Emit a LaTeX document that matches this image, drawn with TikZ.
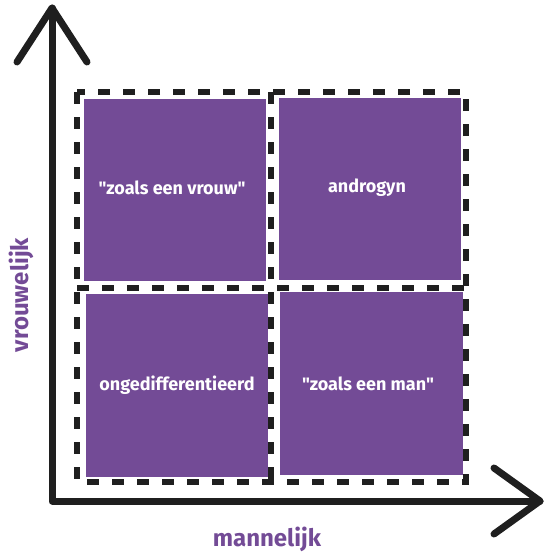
\documentclass[tikz,border=0pt]{standalone}
\usepackage{fontspec}
\newfontfamily\qfont{Fira Sans}
\begin{document}
\begin{tikzpicture}[x=1pt,y=-1pt,
  axis/.style={line width=7pt,line cap=round,line join=round,draw=black!88},
  dashbox/.style={line width=5.5pt,draw=black!88,dash pattern=on 12pt off 13pt},
  qtext/.style={text=white,font=\qfont\bfseries\fontsize{18}{20}\selectfont},
  alabel/.style={text=qpurple,font=\qfont\bfseries\fontsize{24}{26}\selectfont}]
\definecolor{qpurple}{RGB}{115,75,150}
\useasboundingbox (0,0) rectangle (544,555);
% purple squares
\fill[qpurple] (84,99) rectangle (266,281);
\fill[qpurple] (279,98) rectangle (461,280);
\fill[qpurple] (86,294) rectangle (268,477);
\fill[qpurple] (280,292) rectangle (463,475);
% dashed frames
\draw[dashbox] (77,92) rectangle (466,482);
\draw[dashbox] (271,92) -- (271,482);
\draw[dashbox] (77,288) -- (466,288);
% axes
\coordinate (o) at (52,501);
\coordinate (ytip) at (52,8);
\coordinate (xtip) at (540,501);
\draw[axis] (ytip) -- (o) -- (xtip);
\draw[axis] (17,62) -- (ytip) -- (87,62);
\draw[axis] (494,468) -- (xtip) -- (494,534);
% texts
\node[qtext] (tl) at (172,188) {"zoals een vrouw"};
\node[qtext] (tr) at (367,188) {androgyn};
\node[qtext] (bl) at (177,385) {ongedifferentieerd};
\node[qtext] (br) at (368,384) {"zoals een man"};
\node[alabel,rotate=90] (vl) at (21,295) {vrouwelijk};
\node[alabel] (ml) at (267,539) {mannelijk};
\end{tikzpicture}
\end{document}
